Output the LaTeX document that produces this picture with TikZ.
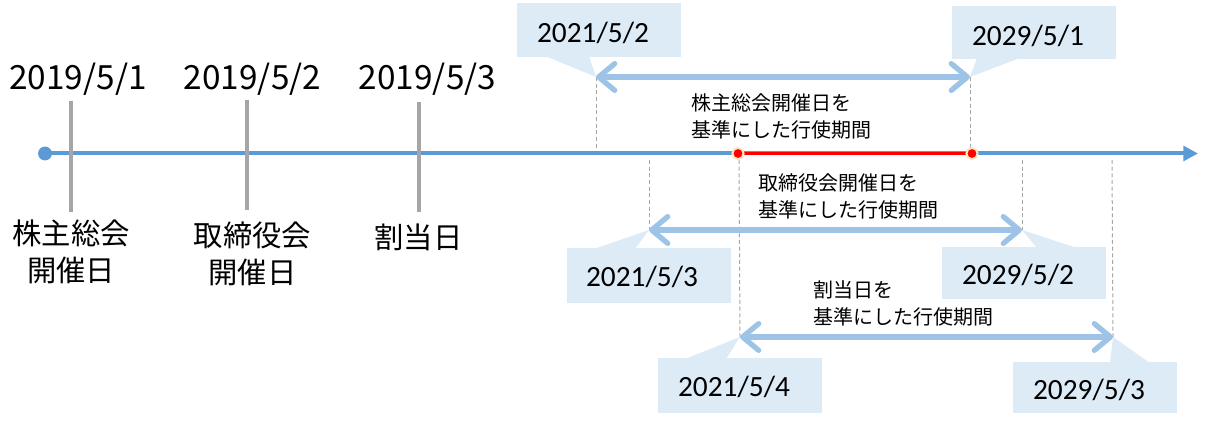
\documentclass[tikz,border=0pt]{standalone}
\usepackage{fontspec}
\newfontfamily\jpfont{Noto Sans CJK JP}
\newfontfamily\calfont{Carlito}
\usetikzlibrary{arrows.meta}
\definecolor{mainblue}{RGB}{91,155,213}
\definecolor{lightarrow}{RGB}{157,195,230}
\definecolor{callfill}{RGB}{221,235,247}
\definecolor{tickgray}{RGB}{166,166,166}
\definecolor{halo}{RGB}{252,228,190}
\begin{document}
\begin{tikzpicture}[x=0.75pt,y=-0.75pt,
  tickline/.style={draw=tickgray,line width=3pt},
  guide/.style={draw=tickgray,line width=0.75pt,dash pattern=on 3pt off 2pt},
  period/.style={draw=lightarrow,line width=4pt,
    {Straight Barb[length=12pt,width=20pt,line width=4pt,round]}-{Straight Barb[length=12pt,width=20pt,line width=4pt,round]}},
  callbox/.style={fill=callfill,minimum width=123pt,inner sep=0pt},
  calltext/.style={font=\calfont\fontsize{22}{26}\selectfont,inner sep=0pt},
  toplabel/.style={font=\jpfont\fontsize{25}{30}\selectfont,inner sep=0pt},
  botlabel/.style={font=\jpfont\fontsize{22}{27.75}\selectfont,align=center,inner sep=0pt},
  perlabel/.style={font=\jpfont\fontsize{15}{20}\selectfont,align=left,anchor=west,inner sep=0pt},
  reddot/.style={fill=red,draw=halo,line width=1.5pt}
]
\useasboundingbox (0,0) rectangle (1206,423);

% callout boxes
\node[callbox,minimum height=40.5pt] (b1) at (598.5,30) {};
\node[callbox,minimum height=39.75pt] (b2) at (1034,32.5) {};
\node[callbox,minimum height=41.25pt] (b3) at (649,275.5) {};
\node[callbox,minimum height=39pt] (b4) at (1024,273) {};
\node[callbox,minimum height=41.25pt] (b5) at (739.5,385.5) {};
\node[callbox,minimum height=38.25pt] (b6) at (1095,387.5) {};

% pointer tips
\coordinate (t1) at (596,77);
\coordinate (t2) at (970,77);
\coordinate (t3) at (649,230);
\coordinate (t4) at (1022,230);
\coordinate (t5) at (740,337);
\coordinate (t6) at (1113,337);

% pointers
\fill[callfill] (545,56) -- (t1) -- (589,56) -- cycle;
\fill[callfill] (977,58) -- (t2) -- (1020,58) -- cycle;
\fill[callfill] (594,249) -- (t3) -- (635,249) -- cycle;
\fill[callfill] (1037,248) -- (t4) -- (1077,248) -- cycle;
\fill[callfill] (685,359) -- (t5) -- (726,359) -- cycle;
\fill[callfill] (1110,363) -- (t6) -- (1150,363) -- cycle;

% callout texts
\node[calltext] (d1) at (593,32.5) {2021/5/2};
\node[calltext] (d2) at (1028,36) {2029/5/1};
\node[calltext] (d3) at (642,277) {2021/5/3};
\node[calltext] (d4) at (1018,275) {2029/5/2};
\node[calltext] (d5) at (734,387) {2021/5/4};
\node[calltext] (d6) at (1089,390) {2029/5/3};

% guides
\coordinate (g1) at (596,150);
\coordinate (g2) at (970,150);
\coordinate (g3a) at (649,160);
\coordinate (g4a) at (1022,160);
\coordinate (g5a) at (739,160);
\coordinate (g6a) at (1112,160);
\draw[guide] (t1) -- (g1);
\draw[guide] (t2) -- (g2);
\draw[guide] (g3a) -- (t3);
\draw[guide] (g4a) -- (t4);
\draw[guide] (g5a) -- (t5);
\draw[guide] (g6a) -- (t6);

% period arrows
\draw[period] (t1) -- (t2);
\draw[period] (t3) -- (t4);
\draw[period] (t5) -- (t6);

% period labels
\node[perlabel] (p1) at (691,116.5) {株主総会開催日を\\基準にした行使期間};
\node[perlabel] (p2) at (758,196.5) {取締役会開催日を\\基準にした行使期間};
\node[perlabel] (p3) at (813,303.5) {割当日を\\基準にした行使期間};

% main timeline
\coordinate (s) at (45,153.5);
\coordinate (e) at (1198,153.5);
\draw[mainblue,line width=3pt,-{Triangle[length=11pt,width=11pt]}] (s) -- (e);
\fill[mainblue] (s) circle[radius=5.2pt];

% ticks
\coordinate (k1a) at (71,101); \coordinate (k1b) at (71,212);
\coordinate (k2a) at (247,100); \coordinate (k2b) at (247,210);
\coordinate (k3a) at (419,102); \coordinate (k3b) at (419,212);
\draw[tickline] (k1a) -- (k1b);
\draw[tickline] (k2a) -- (k2b);
\draw[tickline] (k3a) -- (k3b);

% red segment
\coordinate (r1) at (738,153.5);
\coordinate (r2) at (972,153.5);
\draw[red,line width=2.8pt] (r1) -- (r2);
\draw[reddot] (r1) circle[radius=4.2pt];
\draw[reddot] (r2) circle[radius=4.2pt];

% top labels
\node[toplabel] (y1) at (78,79) {2019/5/1};
\node[toplabel] (y2) at (252.5,79) {2019/5/2};
\node[toplabel] (y3) at (427.5,79) {2019/5/3};

% bottom labels
\node[botlabel] (l1) at (71,251.5) {株主総会\\開催日};
\node[botlabel] (l2) at (252.5,253.5) {取締役会\\開催日};
\node[botlabel] (l3) at (418.5,237) {割当日};
\end{tikzpicture}
\end{document}
